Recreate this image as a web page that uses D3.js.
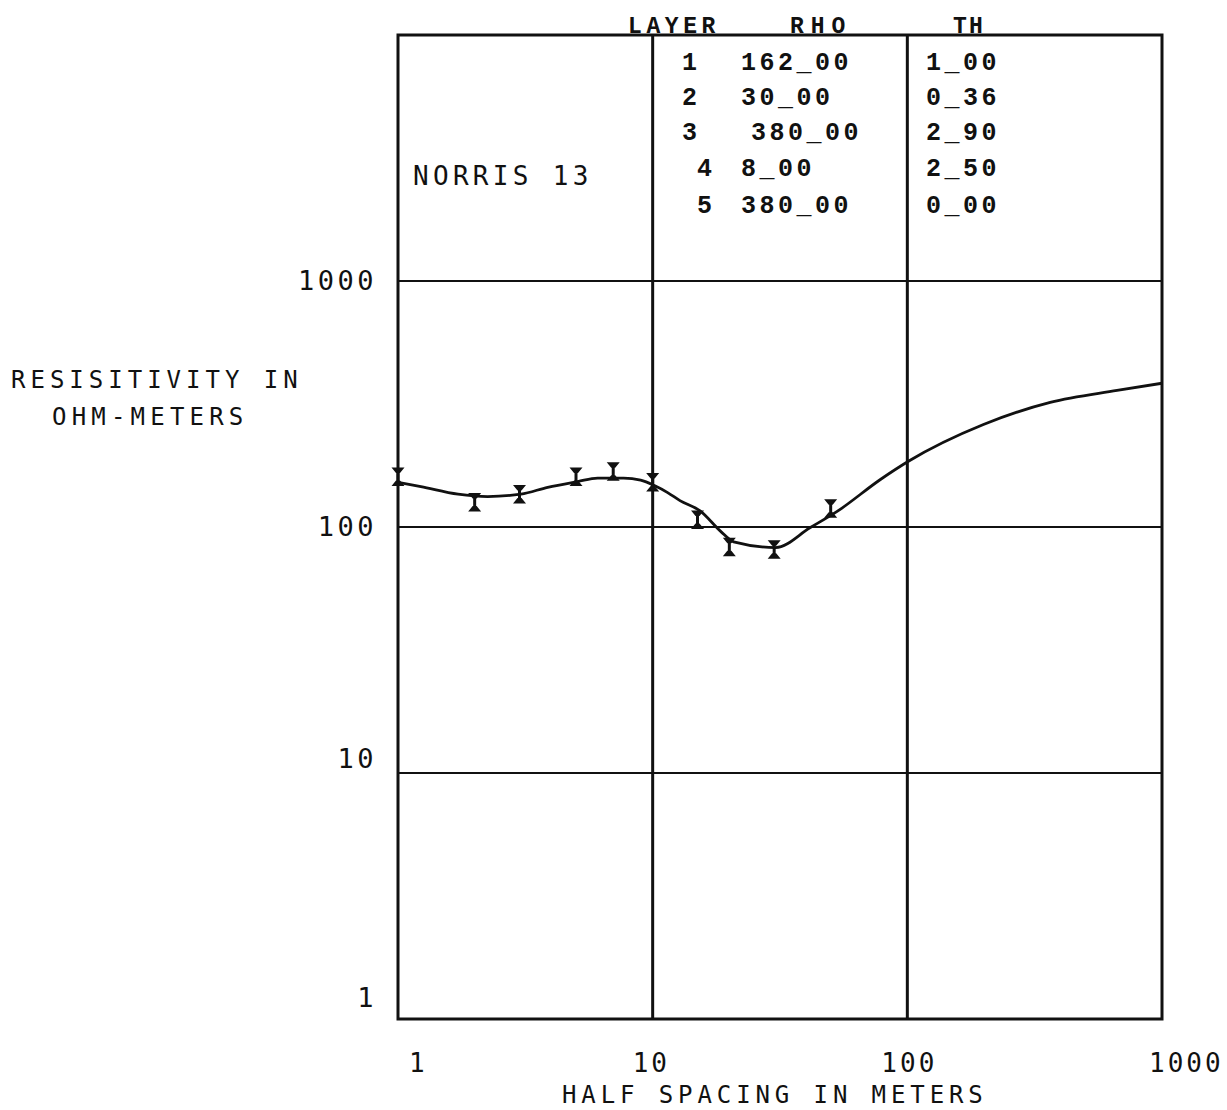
<!DOCTYPE html>
<html>
<head>
<meta charset="utf-8">
<script src="https://cdn.jsdelivr.net/npm/d3@7"></script>
<style>
  body { margin: 0; background: #fff; }
  svg { display: block; }
  .plot-text { font-family: "DejaVu Sans Mono", monospace; fill: #111; }
  .table-text { font-family: "Liberation Mono", "Courier New", monospace; font-weight: bold; fill: #111; }
</style>
</head>
<body>
<svg id="chart" width="1227" height="1110"></svg>
<script>
// Field readings: apparent resistivity (ohm-m) at each electrode half spacing (m)
const halfSpacing = [1, 2, 3, 5, 7, 10, 15, 20, 30, 50];
const apparentRho = [160, 126, 136, 160, 168, 152, 107, 83, 81, 119];
const errorPercent = [7, 7, 7, 7, 7, 7, 7, 7, 7, 7];

// Computed response of the layered model
const modelSpacing = [1, 1.23, 1.72, 2.25, 3.04, 3.87, 5.08, 6.08, 7.69, 8.97, 10.2, 11.45,
                      12.8, 15.4, 18.5, 20.8, 30.4, 41.6, 53.2, 78.4, 101, 199, 364, 666, 1000];
const modelRho = [152, 146, 136, 133, 136, 145, 153, 158, 158, 155, 147, 138,
                  128, 116, 96, 87, 82.5, 99.5, 116, 156, 185, 261, 321, 359, 384];

// Layer model parameters
const layerIds = [1, 2, 3, 4, 5];
const layerRho = [162, 30, 380, 8, 380];
const layerThickness = [1.00, 0.36, 2.90, 2.50, 0.00];
const tableHeaders = ["LAYER", "RHO", "TH"];

// Axis ticks and titles
const xTicks = [1, 10, 100, 1000];
const yTicks = [1, 10, 100, 1000];
const stationName = "NORRIS 13";
const yTitleLines = ["RESISITIVITY IN", "OHM-METERS"];
const xTitle = "HALF SPACING IN METERS";

// ---- layout ----
const plotLeft = 398, plotRight = 1162, plotTop = 35, plotBottom = 1019;
const ink = "#111";

const svg = d3.select("#chart");

const x = d3.scaleLog().domain([1, 1000]).range([plotLeft, plotRight]);
const y = d3.scaleLog().domain([1, 10000]).range([plotBottom, plotTop]);

// horizontal decade grid lines
svg.append("g").selectAll("line")
  .data(yTicks.filter(v => v > 1))
  .join("line")
  .attr("x1", plotLeft).attr("x2", plotRight)
  .attr("y1", d => y(d)).attr("y2", d => y(d))
  .attr("stroke", ink).attr("stroke-width", 2);

// vertical decade grid lines (these also divide the table columns)
svg.append("g").selectAll("line")
  .data(xTicks.filter(v => v > 1 && v < 1000))
  .join("line")
  .attr("x1", d => x(d)).attr("x2", d => x(d))
  .attr("y1", plotTop).attr("y2", plotBottom)
  .attr("stroke", ink).attr("stroke-width", 3);

// frame
svg.append("rect")
  .attr("x", plotLeft).attr("y", plotTop)
  .attr("width", plotRight - plotLeft).attr("height", plotBottom - plotTop)
  .attr("fill", "none").attr("stroke", ink).attr("stroke-width", 3);

// y tick labels (plotter places the lower ones slightly above their lines)
const yLabelShift = { 1: -12, 10: -5, 100: 9, 1000: 9 };
svg.append("g").selectAll("text")
  .data(yTicks)
  .join("text")
  .attr("class", "plot-text")
  .attr("x", 377)
  .attr("y", d => y(d) + yLabelShift[d])
  .attr("text-anchor", "end")
  .attr("font-size", 27)
  .attr("letter-spacing", 3.5)
  .text(d => d3.format("d")(d));

// x tick labels (left edges relative to the decade positions)
const xLabelShift = { 1: 11, 10: -20, 100: -26, 1000: -13 };
svg.append("g").selectAll("text")
  .data(xTicks)
  .join("text")
  .attr("class", "plot-text")
  .attr("x", d => x(d) + xLabelShift[d])
  .attr("y", 1072)
  .attr("font-size", 26)
  .attr("letter-spacing", 3)
  .text(d => d3.format("d")(d));

// axis titles
svg.append("text")
  .attr("class", "plot-text")
  .attr("x", 562).attr("y", 1103)
  .attr("font-size", 24)
  .attr("letter-spacing", 4.9)
  .text(xTitle);

svg.append("text")
  .attr("class", "plot-text")
  .attr("x", 11).attr("y", 388)
  .attr("font-size", 24)
  .attr("letter-spacing", 5)
  .text(yTitleLines[0]);
svg.append("text")
  .attr("class", "plot-text")
  .attr("x", 52).attr("y", 425)
  .attr("font-size", 24)
  .attr("letter-spacing", 5.2)
  .text(yTitleLines[1]);

// station name
svg.append("text")
  .attr("class", "plot-text")
  .attr("x", 413).attr("y", 185)
  .attr("font-size", 26)
  .attr("letter-spacing", 4.3)
  .text(stationName);

// ---- model table ----
const headerX = [628, 790, 953];
const headerSpacing = [4.6, 7, 2.2];
svg.append("g").selectAll("text")
  .data(tableHeaders)
  .join("text")
  .attr("class", "table-text")
  .attr("x", (d, i) => headerX[i])
  .attr("y", 33)
  .attr("font-size", 23)
  .attr("letter-spacing", (d, i) => headerSpacing[i])
  .text(d => d);

const rowBase = [70, 105, 140, 176, 213];
const idX = [682, 682, 682, 697, 697];
const rhoX = [741, 741, 751, 741, 741];
const thX = 926;
const decimalFmt = v => d3.format(".2f")(v).replace(".", "_");

const rows = svg.append("g").selectAll("g")
  .data(layerIds)
  .join("g");

rows.append("text")
  .attr("class", "table-text")
  .attr("x", (d, i) => idX[i]).attr("y", (d, i) => rowBase[i])
  .attr("font-size", 25)
  .text(d => d);

rows.append("text")
  .attr("class", "table-text")
  .attr("x", (d, i) => rhoX[i]).attr("y", (d, i) => rowBase[i])
  .attr("font-size", 25)
  .attr("letter-spacing", 3.5)
  .text((d, i) => decimalFmt(layerRho[i]));

rows.append("text")
  .attr("class", "table-text")
  .attr("x", thX).attr("y", (d, i) => rowBase[i])
  .attr("font-size", 25)
  .attr("letter-spacing", 3.5)
  .text((d, i) => decimalFmt(layerThickness[i]));

// ---- model curve ----
const modelPts = modelSpacing.map((s, i) => [s, modelRho[i]]);
svg.append("path")
  .datum(modelPts)
  .attr("fill", "none")
  .attr("stroke", ink)
  .attr("stroke-width", 2.8)
  .attr("stroke-linejoin", "round")
  .attr("d", d3.line()
    .x(d => x(d[0]))
    .y(d => y(d[1]))
    .curve(d3.curveMonotoneX));

// ---- measured values with error bars ----
const obs = halfSpacing.map((s, i) => ({ s, v: apparentRho[i], e: errorPercent[i] / 100 }));
const bars = svg.append("g").selectAll("g")
  .data(obs)
  .join("g");

bars.append("line")
  .attr("x1", d => x(d.s)).attr("x2", d => x(d.s))
  .attr("y1", d => y(d.v * (1 + d.e)))
  .attr("y2", d => y(d.v / (1 + d.e)))
  .attr("stroke", ink).attr("stroke-width", 3);

// hourglass-style caps
bars.append("path")
  .attr("fill", ink)
  .attr("d", d => {
    const cx = x(d.s);
    const yt = y(d.v * (1 + d.e));
    const yb = y(d.v / (1 + d.e));
    return `M${cx - 6.5},${yt - 2}L${cx + 6.5},${yt - 2}L${cx + 2},${yt + 3.5}L${cx - 2},${yt + 3.5}Z` +
           `M${cx - 6.5},${yb + 2}L${cx + 6.5},${yb + 2}L${cx + 2},${yb - 3.5}L${cx - 2},${yb - 3.5}Z`;
  });
</script>
</body>
</html>
